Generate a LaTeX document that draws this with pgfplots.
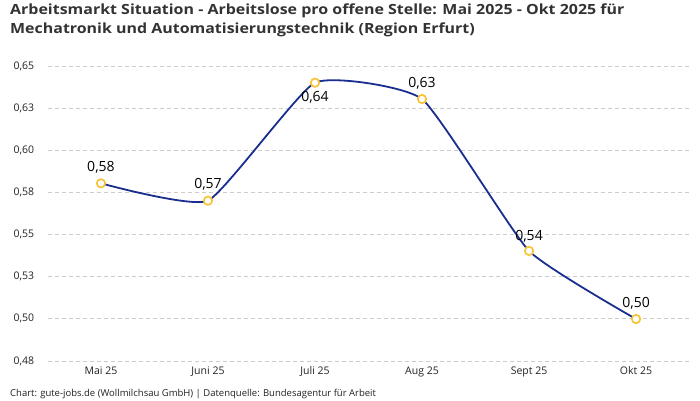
\documentclass[border=0pt]{standalone}
\usepackage{pgfplots}
\pgfplotsset{compat=1.18}
\usepackage{fontspec}
\setmainfont{Open Sans}
\newfontfamily\titlefont{Open Sans}[FakeStretch=1.14]
\definecolor{linec}{HTML}{1A2E8F}
\definecolor{markc}{HTML}{F7C437}
\definecolor{gridc}{HTML}{CCCCCC}
\definecolor{textc}{HTML}{222222}
\definecolor{titlec}{HTML}{333333}
\begin{document}
\begin{tikzpicture}[x=1bp,y=1bp]
\path[use as bounding box] (0,0) rectangle (700,400);
\node[anchor=base west, font=\titlefont\fontsize{14bp}{17bp}\selectfont\bfseries, text=titlec, inner sep=0] at (10,386) {Arbeitsmarkt Situation - Arbeitslose pro offene Stelle: Mai 2025 - Okt 2025 für};
\node[anchor=base west, font=\titlefont\fontsize{14bp}{17bp}\selectfont\bfseries, text=titlec, inner sep=0] at (10,367) {Mechatronik und Automatisierungstechnik (Region Erfurt)};
\node[anchor=base west, font=\fontsize{9.5bp}{11bp}\selectfont, text=textc, inner sep=0] at (10,4) {Chart: gute-jobs.de (Wollmilchsau GmbH) | Datenquelle: Bundesagentur für Arbeit};
\begin{axis}[
  at={(48bp,39bp)}, anchor=south west,
  scale only axis, width=641bp, height=295bp,
  xmin=-0.495, xmax=5.495, ymin=0.475, ymax=0.65,
  axis line style={draw=none},
  tick style={draw=none},
  xtick={0,1,2,3,4,5},
  xticklabels={Mai 25,Juni 25,Juli 25,Aug 25,Sept 25,Okt 25},
  ytick={0.475,0.5,0.525,0.55,0.575,0.6,0.625,0.65},
  yticklabels={{0,48},{0,50},{0,53},{0,55},{0,58},{0,60},{0,63},{0,65}},
  ymajorgrids,
  major grid style={draw=gridc, dash pattern=on 4bp off 3bp, line width=0.8bp},
  ticklabel style={font=\fontsize{10.5bp}{12bp}\selectfont, text=textc},
  xticklabel style={yshift=-2bp},
  every y tick label/.style={anchor=west},
  yticklabel style={xshift=-38bp},
  clip=false,
]
\addplot[linec, line width=1.8bp, smooth, tension=0.27] table[x=x,y=y] {
x y
0 0.5804
1 0.5701
2 0.6401
3 0.6304
4 0.5403
5 0.4999
};
\addplot[only marks, mark=*, mark size=4.2bp, mark options={draw=markc, fill=white, line width=1.7bp},
  visualization depends on={\thisrow{dy} \as \mydy},
  point meta=explicit symbolic,
  nodes near coords,
  every node near coord/.append style={anchor=center, font=\fontsize{14bp}{15bp}\selectfont, text=black, inner sep=0pt, yshift=\mydy bp},
] table[x=x,y=y,meta=lab] {
x y lab dy
0 0.5804 0,58 16
1 0.5701 0,57 16
2 0.6401 0,64 -15
3 0.6304 0,63 16
4 0.5403 0,54 15
5 0.4999 0,50 16
};
\end{axis}
\end{tikzpicture}
\end{document}
